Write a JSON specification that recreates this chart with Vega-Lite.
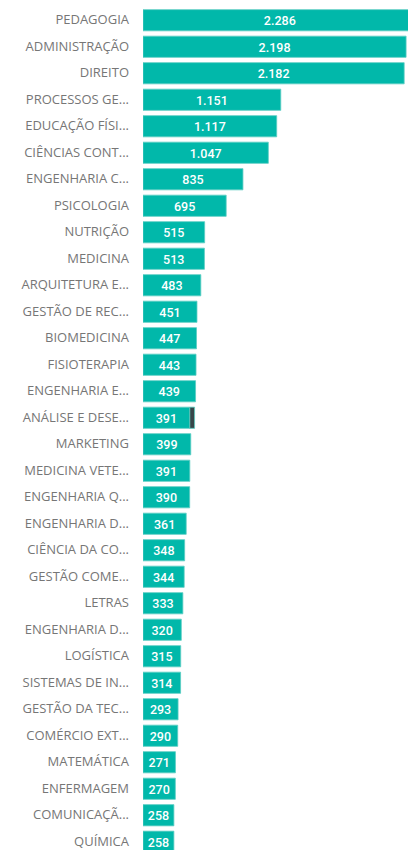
{
  "$schema": "https://vega.github.io/schema/vega-lite/v6.json",
  "autosize": "none",
  "padding": {"left": 143, "top": 7, "right": 0, "bottom": 0},
  "width": 265,
  "height": 848,
  "background": "white",
  "config": {
    "view": {"stroke": null},
    "locale": {"number": {"decimal": ",", "thousands": ".", "grouping": [3], "currency": ["R$", ""]}}
  },
  "data": {
    "values": [
      {"ordem": 1, "rotulo": "PEDAGOGIA", "serie": "A", "valor": 2286},
      {"ordem": 2, "rotulo": "ADMINISTRAÇÃO", "serie": "A", "valor": 2198},
      {"ordem": 3, "rotulo": "DIREITO", "serie": "A", "valor": 2182},
      {"ordem": 4, "rotulo": "PROCESSOS GE...", "serie": "A", "valor": 1151},
      {"ordem": 5, "rotulo": "EDUCAÇÃO FÍSI...", "serie": "A", "valor": 1117},
      {"ordem": 6, "rotulo": "CIÊNCIAS CONT...", "serie": "A", "valor": 1047},
      {"ordem": 7, "rotulo": "ENGENHARIA C...", "serie": "A", "valor": 835},
      {"ordem": 8, "rotulo": "PSICOLOGIA", "serie": "A", "valor": 695},
      {"ordem": 9, "rotulo": "NUTRIÇÃO", "serie": "A", "valor": 515},
      {"ordem": 10, "rotulo": "MEDICINA", "serie": "A", "valor": 513},
      {"ordem": 11, "rotulo": "ARQUITETURA E...", "serie": "A", "valor": 483},
      {"ordem": 12, "rotulo": "GESTÃO DE REC...", "serie": "A", "valor": 451},
      {"ordem": 13, "rotulo": "BIOMEDICINA", "serie": "A", "valor": 447},
      {"ordem": 14, "rotulo": "FISIOTERAPIA", "serie": "A", "valor": 443},
      {"ordem": 15, "rotulo": "ENGENHARIA E...", "serie": "A", "valor": 439},
      {"ordem": 16, "rotulo": "ANÁLISE E DESE...", "serie": "A", "valor": 391},
      {"ordem": 16, "rotulo": "ANÁLISE E DESE...", "serie": "B", "valor": 40},
      {"ordem": 17, "rotulo": "MARKETING", "serie": "A", "valor": 399},
      {"ordem": 18, "rotulo": "MEDICINA VETE...", "serie": "A", "valor": 391},
      {"ordem": 19, "rotulo": "ENGENHARIA Q...", "serie": "A", "valor": 390},
      {"ordem": 20, "rotulo": "ENGENHARIA D...", "serie": "A", "valor": 361},
      {"ordem": 21, "rotulo": "CIÊNCIA DA CO...", "serie": "A", "valor": 348},
      {"ordem": 22, "rotulo": "GESTÃO COME...", "serie": "A", "valor": 344},
      {"ordem": 23, "rotulo": "LETRAS", "serie": "A", "valor": 333},
      {"ordem": 24, "rotulo": "ENGENHARIA D...", "serie": "A", "valor": 320},
      {"ordem": 25, "rotulo": "LOGÍSTICA", "serie": "A", "valor": 315},
      {"ordem": 26, "rotulo": "SISTEMAS DE IN...", "serie": "A", "valor": 314},
      {"ordem": 27, "rotulo": "GESTÃO DA TEC...", "serie": "A", "valor": 293},
      {"ordem": 28, "rotulo": "COMÉRCIO EXT...", "serie": "A", "valor": 290},
      {"ordem": 29, "rotulo": "MATEMÁTICA", "serie": "A", "valor": 271},
      {"ordem": 30, "rotulo": "ENFERMAGEM", "serie": "A", "valor": 270},
      {"ordem": 31, "rotulo": "COMUNICAÇÃ...", "serie": "A", "valor": 258},
      {"ordem": 32, "rotulo": "QUÍMICA", "serie": "A", "valor": 258}
    ]
  },
  "encoding": {
    "y": {
      "field": "ordem",
      "type": "ordinal",
      "sort": "ascending",
      "axis": null,
      "scale": {"paddingInner": 0.2, "paddingOuter": 0.1}
    }
  },
  "layer": [
    {
      "mark": {"type": "bar", "clip": true, "stroke": "#5ccdc3", "strokeWidth": 0.8},
      "encoding": {
        "x": {
          "field": "valor",
          "type": "quantitative",
          "stack": "zero",
          "axis": null,
          "scale": {"domain": [0, 2214], "nice": false, "zero": true}
        },
        "color": {
          "field": "serie",
          "type": "nominal",
          "legend": null,
          "scale": {"domain": ["A", "B"], "range": ["#01B8AA", "#374649"]}
        },
        "order": {"field": "serie", "sort": "ascending"}
      }
    },
    {
      "transform": [
        {"filter": "datum.serie == 'A'"},
        {"calculate": "datum.valor / 2", "as": "meio"}
      ],
      "mark": {"type": "text", "align": "center", "baseline": "middle", "font": "Roboto", "fontSize": 12.5, "fontWeight": 500, "color": "#ffffff", "dy": 1},
      "encoding": {
        "x": {"field": "meio", "type": "quantitative"},
        "text": {"field": "valor", "type": "quantitative", "format": ",d"}
      }
    },
    {
      "transform": [{"filter": "datum.serie == 'A'"}],
      "mark": {"type": "text", "align": "right", "baseline": "middle", "font": "Open Sans", "fontSize": 13, "color": "#767676", "dx": -14, "dy": 0},
      "encoding": {
        "x": {"datum": 0, "type": "quantitative"},
        "text": {"field": "rotulo", "type": "nominal"}
      }
    }
  ]
}
